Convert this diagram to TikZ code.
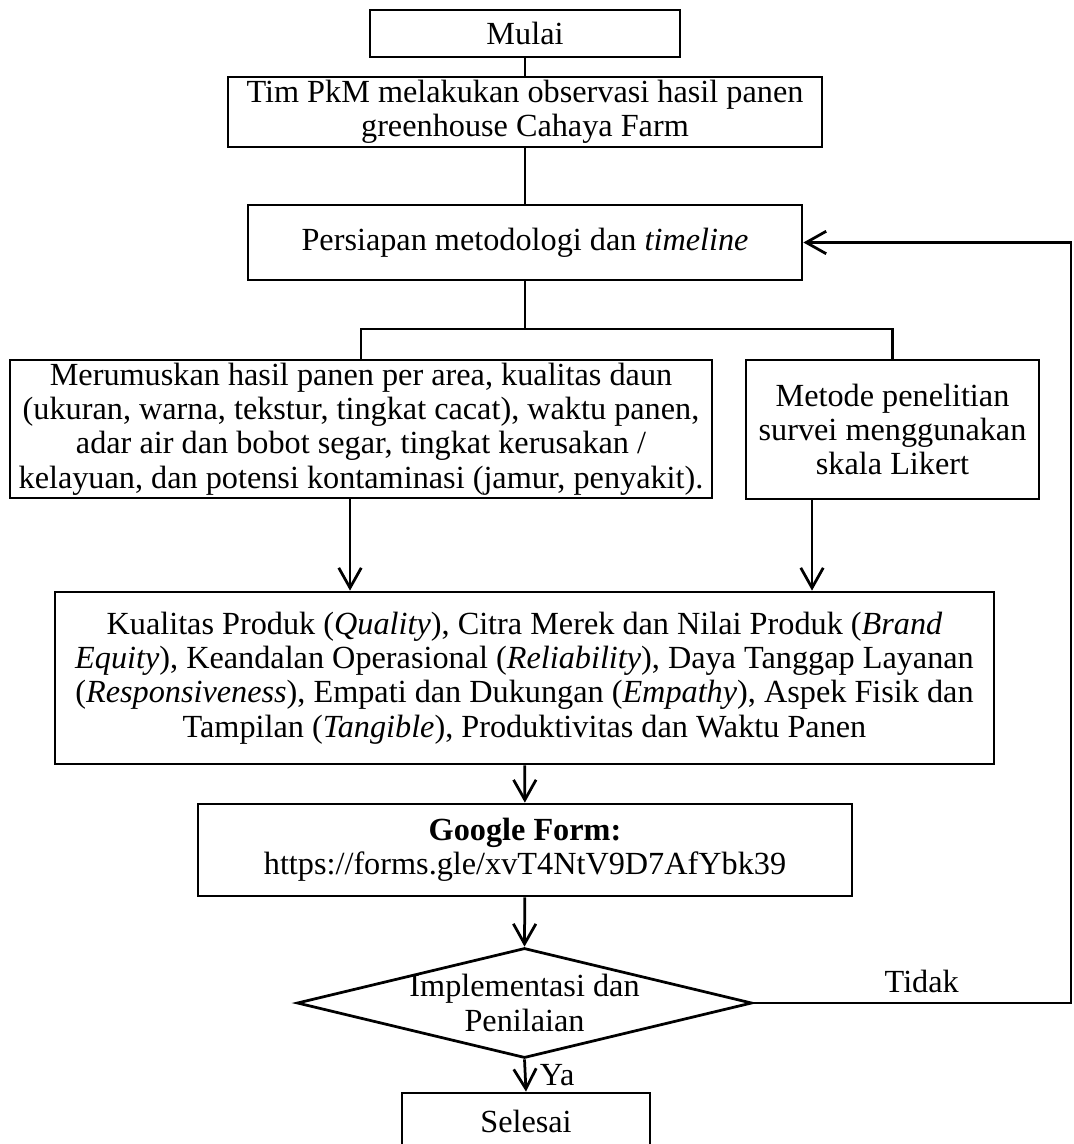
\documentclass[tikz,border=0pt]{standalone}
\usepackage{fontspec}
\setmainfont{Liberation Serif}
\usetikzlibrary{arrows.meta,shapes.geometric}

\begin{document}
\begin{tikzpicture}[x=0.4pt,y=-0.4pt,line width=1.1pt,>={Straight Barb[length=8pt,width=9pt]},
  box/.style={draw,align=center,inner sep=0pt,font=\fontsize{12.9}{13.7}\selectfont},
  decision/.style={draw,shape=diamond,inner sep=0pt},
  lbl/.style={font=\fontsize{12.9}{13.7}\selectfont}]
  \useasboundingbox (0,0) rectangle (1073,1144);
  % kotak-kotak alur
  \node[box,minimum width=124pt,minimum height=18.8pt] (mulai) at (525,33.5) {Mulai};
  \node[box,minimum width=237.6pt,minimum height=28pt] (tim) at (525,112)
    {Tim PkM melakukan observasi hasil panen\\greenhouse Cahaya Farm};
  \node[box,minimum width=221.6pt,minimum height=30pt] (persiapan) at (525,242.5)
    {Persiapan metodologi dan \textit{timeline}};
  \node[box,minimum width=280.8pt,minimum height=55.2pt] (rumus) at (361,429)
    {Merumuskan hasil panen per area, kualitas daun\\(ukuran, warna, tekstur, tingkat cacat), waktu panen,\\adar air dan bobot segar, tingkat kerusakan /\\kelayuan, dan potensi kontaminasi (jamur, penyakit).};
  \node[box,minimum width=117.2pt,minimum height=55.6pt] (metode) at (892.5,429.5)
    {Metode penelitian\\survei menggunakan\\skala Likert};
  \node[box,minimum width=375.6pt,minimum height=68.8pt] (kualitas) at (524.5,678)
    {Kualitas Produk (\textit{Quality}), Citra Merek dan Nilai Produk (\textit{Brand}\\\textit{Equity}), Keandalan Operasional (\textit{Reliability}), Daya Tanggap Layanan\\(\textit{Responsiveness}), Empati dan Dukungan (\textit{Empathy}), Aspek Fisik dan\\Tampilan (\textit{Tangible}), Produktivitas dan Waktu Panen};
  \node[box,minimum width=261.6pt,minimum height=36.8pt] (gform) at (525,850)
    {\textbf{Google Form:}\\https://forms.gle/xvT4NtV9D7AfYbk39};
  \node[decision,minimum width=182pt,minimum height=44pt] (dec) at (524.5,1003) {};
  \node[lbl,align=center] (dectext) at (dec) {Implementasi dan\\Penilaian};
  \node[box,minimum width=99.2pt,minimum height=22.8pt] (selesai) at (526,1121.5) {Selesai};
  % percabangan
  \coordinate (split) at (525,329);
  \coordinate (kiri) at (350,0);
  \coordinate (kanan) at (812,0);
  \coordinate (balik) at (1071,1003);
  \draw (mulai) -- (tim);
  \draw (tim) -- (persiapan);
  \draw (persiapan.south) -- (split);
  \draw (rumus.north) |- (split) -| (metode.north);
  \draw[->] (rumus.south -| kiri) -- (kualitas.north -| kiri);
  \draw[->] (metode.south -| kanan) -- (kualitas.north -| kanan);
  \draw[->] (kualitas) -- (gform);
  \draw[->] (gform) -- (dec.north);
  \draw[->] (dec.south) -- node[lbl,right,xshift=2pt] (ya) {Ya} (selesai.north);
  \draw[->] (dec.east) -- node[lbl,above,pos=0.53] (tidak) {Tidak} (balik) |- (persiapan.east);
\end{tikzpicture}
\end{document}
